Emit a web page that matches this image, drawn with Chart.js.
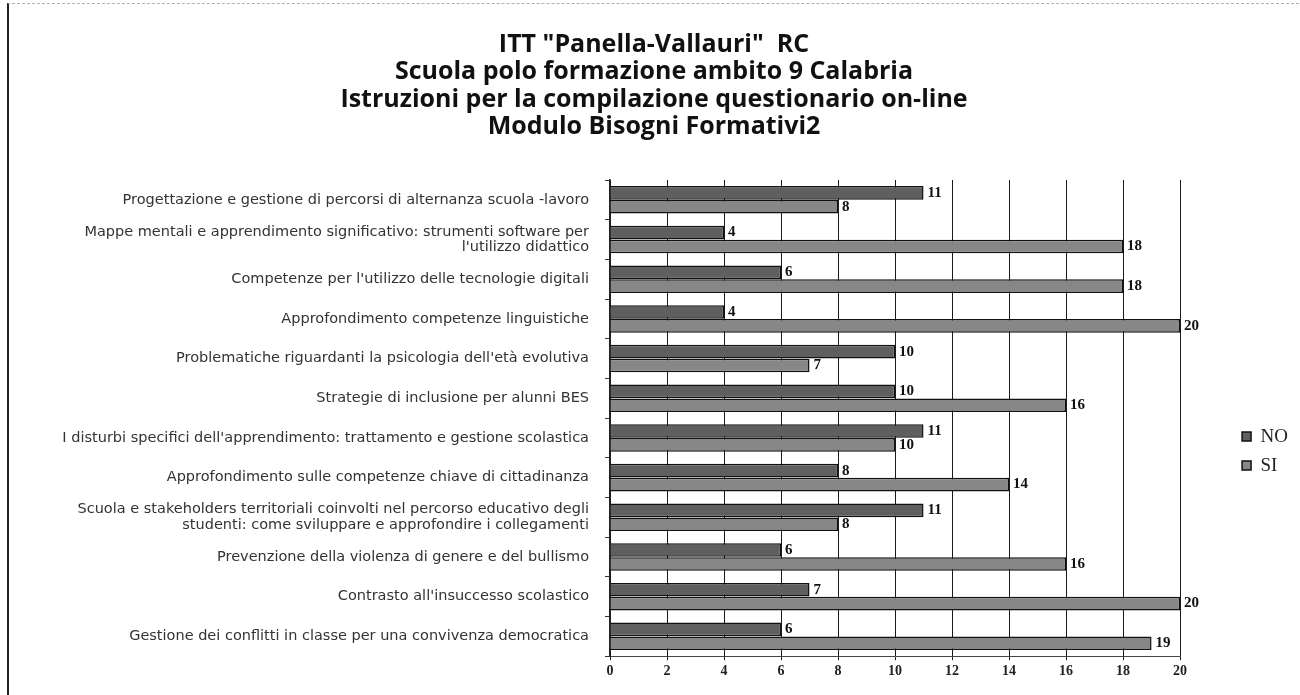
<!DOCTYPE html>
<html><head><meta charset="utf-8">
<script src="https://cdn.jsdelivr.net/npm/chart.js@4/dist/chart.umd.min.js"></script>
<style>
html,body{margin:0;padding:0;background:#fff;}
#wrap{position:relative;width:1300px;height:695px;overflow:hidden;}
canvas{position:absolute;left:0;top:0;}
#frame{position:absolute;left:7px;top:3px;width:1300px;height:700px;border-left:2px solid #222;border-top:1px dashed #b0b0b0;pointer-events:none;}
</style></head>
<body><div id="wrap"><canvas id="c" width="1300" height="695"></canvas><div id="frame"></div></div>
<script>
const titleLines = [
  'ITT "Panella-Vallauri"  RC',
  'Scuola polo formazione ambito 9 Calabria',
  'Istruzioni per la compilazione questionario on-line',
  'Modulo Bisogni Formativi2'
];
const categories = [
  'Progettazione e gestione di percorsi di alternanza scuola -lavoro',
  ['Mappe mentali e apprendimento significativo: strumenti software per', "l'utilizzo didattico"],
  "Competenze per l'utilizzo delle tecnologie digitali",
  'Approfondimento competenze linguistiche',
  "Problematiche riguardanti la psicologia dell'età evolutiva",
  'Strategie di inclusione per alunni BES',
  "I disturbi specifici dell'apprendimento: trattamento e gestione scolastica",
  'Approfondimento sulle competenze chiave di cittadinanza',
  ['Scuola e stakeholders territoriali coinvolti nel percorso educativo degli', 'studenti: come sviluppare e approfondire i collegamenti'],
  'Prevenzione della violenza di genere e del bullismo',
  "Contrasto all'insuccesso scolastico",
  'Gestione dei conflitti in classe per una convivenza democratica'
];
const seriesNames = ['NO', 'SI'];
const valuesNO = [11, 4, 6, 4, 10, 10, 11, 8, 11, 6, 7, 6];
const valuesSI = [8, 18, 18, 20, 7, 16, 10, 14, 8, 16, 20, 19];
const xMin = 0, xMax = 20, xStep = 2;

const barLabels = {
  id: 'barLabels',
  afterDatasetsDraw(chart) {
    const ctx = chart.ctx;
    ctx.save();
    ctx.font = 'bold 15px "Liberation Serif"';
    ctx.fillStyle = '#111';
    ctx.textBaseline = 'middle';
    ctx.textAlign = 'left';
    chart.data.datasets.forEach((ds, i) => {
      chart.getDatasetMeta(i).data.forEach((bar, j) => {
        ctx.fillText(String(ds.data[j]), bar.x + 4, bar.y);
      });
    });
    ctx.restore();
  }
};

new Chart(document.getElementById('c'), {
  type: 'bar',
  data: {
    labels: categories,
    datasets: [
      { label: seriesNames[0], data: valuesNO, backgroundColor: '#5f5f5f', borderColor: '#111', borderWidth: 1.5,
        categoryPercentage: 0.7, barPercentage: 0.98 },
      { label: seriesNames[1], data: valuesSI, backgroundColor: '#878787', borderColor: '#111', borderWidth: 1.5,
        categoryPercentage: 0.7, barPercentage: 0.98 }
    ]
  },
  options: {
    indexAxis: 'y',
    responsive: false,
    animation: false,
    devicePixelRatio: 1,
    layout: { padding: { left: 10, right: 2, top: 18, bottom: 12 } },
    plugins: {
      title: {
        display: true,
        text: titleLines,
        color: '#111',
        font: { family: 'Open Sans', size: 25, weight: 'bold', lineHeight: 1.1 },
        padding: { top: 13, bottom: 39 }
      },
      legend: {
        position: 'right',
        fullSize: false,
        align: 'center',
        title: { display: true, text: ' ', font: { size: 10, lineHeight: 1.2 }, padding: { top: 27, bottom: 27 } },
        labels: {
          boxWidth: 9, boxHeight: 9, padding: 10, color: '#222',
          font: { family: 'Liberation Serif', size: 19 }
        }
      },
      tooltip: { enabled: false }
    },
    scales: {
      x: {
        type: 'linear', min: xMin, max: xMax,
        ticks: { stepSize: xStep, color: '#222', padding: 3, font: { family: 'Liberation Serif', size: 14, weight: 'bold' } },
        grid: { color: '#1a1a1a', lineWidth: 1, tickLength: 4 },
        border: { display: true, color: '#444', width: 1 }
      },
      y: {
        type: 'category',
        ticks: { color: '#333', padding: 16, font: { family: 'DejaVu Sans', size: 14.5, lineHeight: 1.05 } },
        grid: { display: true, drawOnChartArea: false, tickLength: 5, color: '#333', offset: true },
        border: { display: true, color: '#222', width: 1.5 },
        afterFit(s) { s.width = 600; }
      },
      ySpacer: {
        type: 'linear', axis: 'y', position: 'right', display: true,
        grid: { display: false }, ticks: { display: false }, border: { display: false },
        afterFit(s) { s.width = 52; }
      }
    }
  },
  plugins: [barLabels]
});
</script>
</body></html>
